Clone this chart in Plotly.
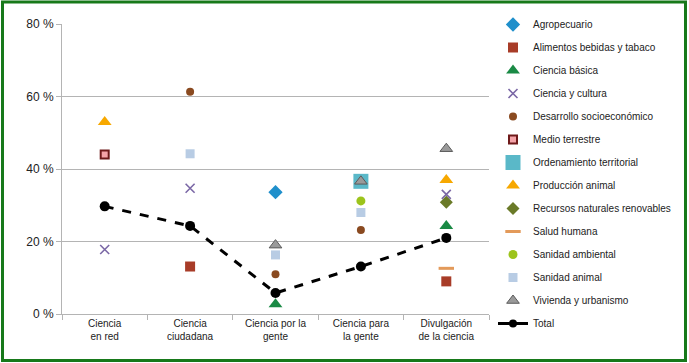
import plotly.graph_objects as go

categories = ["Ciencia<br>en red", "Ciencia<br>ciudadana", "Ciencia por la<br>gente",
              "Ciencia para<br>la gente", "Divulgación<br>de la ciencia"]

# values in percent; None = no point
agropecuario = [None, None, 33.6, None, None]
alimentos = [None, 13.1, None, None, 9.0]
ciencia_basica = [None, None, 2.7, None, 24.3]
ciencia_cultura = [17.8, 34.7, None, None, 33.0]
desarrollo = [None, 61.3, 11.0, 23.2, None]
medio_terrestre = [44.0, None, None, None, None]
ordenamiento = [None, None, None, 36.6, None]
produccion_animal = [53.0, None, None, None, 37.0]
recursos = [None, None, None, None, 30.8]
salud_humana = [None, None, None, None, 12.6]
sanidad_ambiental = [None, None, None, 31.2, None]
sanidad_animal = [None, 44.2, 16.3, 28.0, None]
vivienda = [None, None, 19.0, 36.6, 45.6]
total = [29.7, 24.3, 5.8, 13.1, 21.0]

y_ticks = [0, 20, 40, 60, 80]
y_tick_labels = ["0 %", "20 %", "40 %", "60 %", "80 %"]

series = [
    ("Agropecuario", agropecuario, dict(symbol="diamond", size=11, color="#1f8fcb")),
    ("Alimentos bebidas y tabaco", alimentos, dict(symbol="square", size=10, color="#a83c28")),
    ("Ciencia básica", ciencia_basica, dict(symbol="triangle-up", size=12, color="#1a8a45")),
    ("Ciencia y cultura", ciencia_cultura, dict(symbol="x-thin", size=9, color="#7b68a6",
                                                line=dict(color="#7b68a6", width=1.6))),
    ("Desarrollo socioeconómico", desarrollo, dict(symbol="circle", size=8, color="#8a4a20")),
    ("Medio terrestre", medio_terrestre, dict(symbol="square", size=8, color="#f4a3a8",
                                              line=dict(color="#6e1a1a", width=2))),
    ("Ordenamiento territorial", ordenamiento, dict(symbol="square", size=15, color="#5ab8c8")),
    ("Producción animal", produccion_animal, dict(symbol="triangle-up", size=12, color="#f7a800")),
    ("Recursos naturales renovables", recursos, dict(symbol="diamond", size=10, color="#6a7a28")),
    ("Salud humana", salud_humana, dict(symbol="line-ew", size=11, color="#e39a5a",
                                        line=dict(color="#e39a5a", width=3))),
    ("Sanidad ambiental", sanidad_ambiental, dict(symbol="circle", size=9, color="#9cc41c")),
    ("Sanidad animal", sanidad_animal, dict(symbol="square", size=9, color="#b8cce4")),
    ("Vivienda y urbanismo", vivienda, dict(symbol="triangle-up", size=11, color="#9a9a9a",
                                            line=dict(color="#5a5a5a", width=1))),
]

fig = go.Figure()
for i, (name, vals, marker) in enumerate(series):
    fig.add_trace(go.Scatter(x=categories, y=vals, mode="markers", name=name,
                             marker=marker, legendgroup=f"g{i}", cliponaxis=False))

fig.add_trace(go.Scatter(x=categories, y=total, mode="lines+markers", name="Total",
                         line=dict(color="black", width=3, dash="dash"),
                         marker=dict(symbol="circle", size=10, color="black"),
                         showlegend=False, legendgroup="total"))
# legend entry for Total shown with a solid line
fig.add_trace(go.Scatter(x=[None], y=[None], mode="lines+markers", name="Total",
                         line=dict(color="black", width=3),
                         marker=dict(symbol="circle", size=8, color="black"),
                         legendgroup="total"))

# plot area geometry in pixels
W, H = 689, 363
L, R, T, B = 62, 200, 24, 49
pw, ph = W - L - R, H - T - B

def px_x(p):
    return (p - L) / pw

def px_y(p):
    return (H - B - p) / ph

fig.add_shape(type="rect", xref="paper", yref="paper",
              x0=px_x(2.5), x1=px_x(685.5), y0=px_y(360.5), y1=px_y(2),
              line=dict(color="#17791a", width=3), fillcolor="rgba(0,0,0,0)", layer="above")

fig.update_layout(
    width=W, height=H,
    margin=dict(l=L, r=R, t=T, b=B, autoexpand=False),
    paper_bgcolor="white", plot_bgcolor="white",
    font=dict(family="Liberation Sans, Arial, sans-serif", size=10, color="#222222"),
    showlegend=True,
    legend=dict(x=493 / W, y=(H - 10) / H, xref="container", yref="container",
                xanchor="left", yanchor="top",
                traceorder="grouped", tracegroupgap=4, maxheight=345,
                font=dict(size=10, color="#222222"), bgcolor="rgba(0,0,0,0)"),
    xaxis=dict(type="category", range=[-0.5, 4.5], showgrid=False, showline=True,
               linecolor="#b4b4b4", ticks="outside", tickson="boundaries", ticklen=5,
               tickcolor="#b4b4b4", tickfont=dict(size=10), zeroline=False),
    yaxis=dict(range=[0, 80], tickvals=y_ticks, ticktext=y_tick_labels, showgrid=True,
               gridcolor="#b4b4b4", showline=True, linecolor="#b4b4b4",
               ticks="outside", ticklen=5, tickcolor="#b4b4b4",
               tickfont=dict(size=12), zeroline=False),
)

fig.write_html("out.html", config={"displayModeBar": False},
               post_script="document.body.style.margin='0';document.body.style.overflow='hidden';")
